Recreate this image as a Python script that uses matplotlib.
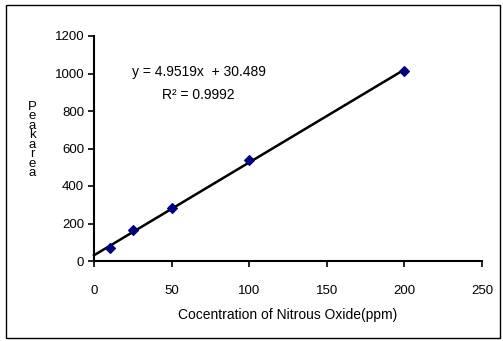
import matplotlib
matplotlib.use("Agg")
import matplotlib.pyplot as plt
from matplotlib.patches import Rectangle
import numpy as np

plt.rcParams['font.family'] = ['Liberation Sans Narrow', 'Liberation Sans', 'DejaVu Sans']

conc = [10, 25, 50, 100, 200]
peak_area = [68, 165, 281, 539, 1013]
slope = 4.9519
intercept = 30.489
r2 = 0.9992
x_ticks = [0, 50, 100, 150, 200, 250]
y_ticks = [0, 200, 400, 600, 800, 1000, 1200]

W, H = 503, 341
fig = plt.figure(figsize=(W/100, H/100), dpi=100)
fig.patch.set_facecolor('white')
fig.patches.append(Rectangle((6/W, 3/H), (500-6)/W, (338-5)/H, transform=fig.transFigure,
                             fill=False, edgecolor='black', linewidth=1.0))

ax = fig.add_axes([94/W, 1-261/H, (482-94)/W, (261-36)/H])
ax.set_xlim(0, 250)
ax.set_ylim(0, 1200)
for s in ['top', 'right']:
    ax.spines[s].set_visible(False)
for s in ['left', 'bottom']:
    ax.spines[s].set_linewidth(1.5)
ax.set_xticks(x_ticks)
ax.set_yticks(y_ticks)
ax.tick_params(axis='both', direction='out', length=4, width=1.2, labelsize=9.5, pad=3)
ax.tick_params(axis='x', pad=13)

xs = np.array([0, 200])
ax.plot(xs, slope*xs + intercept, color='black', linewidth=1.8, zorder=2, clip_on=False)
ax.scatter(conc, peak_area, marker='D', s=24, color='#00007f', zorder=3, clip_on=False)

ax.text(0.27, 0.84, f'y = {slope}x  + {intercept}', transform=ax.transAxes, ha='center', va='center', fontsize=10)
ax.text(0.27, 0.738, f'R² = {r2}', transform=ax.transAxes, ha='center', va='center', fontsize=10)

ax.set_xlabel('Cocentration of Nitrous Oxide(ppm)', fontsize=10, labelpad=8)
fig.text(32/W, 1-140/H, 'P\ne\na\nk\na\nr\ne\na', ha='center', va='center', fontsize=9.5, linespacing=0.72)

fig.savefig('out.png', dpi=100)
